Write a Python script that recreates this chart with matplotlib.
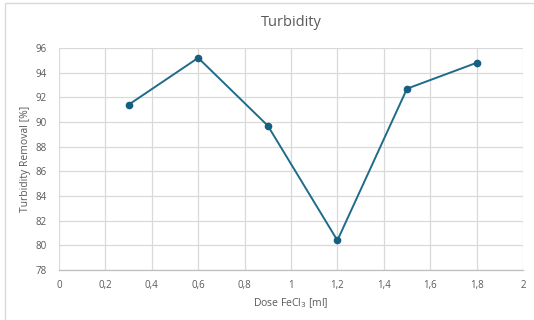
import matplotlib
matplotlib.use("Agg")
import matplotlib.pyplot as plt
from matplotlib.patches import Rectangle

plt.rcParams['font.family'] = ['Open Sans', 'DejaVu Sans']

dose = [0.3, 0.6, 0.9, 1.2, 1.5, 1.8]
removal = [91.4, 95.2, 89.7, 80.4, 92.7, 94.8]
x_ticks = [0, 0.2, 0.4, 0.6, 0.8, 1.0, 1.2, 1.4, 1.6, 1.8, 2.0]
x_tick_labels = ["0", "0,2", "0,4", "0,6", "0,8", "1", "1,2", "1,4", "1,6", "1,8", "2"]
y_ticks = [78, 80, 82, 84, 86, 88, 90, 92, 94, 96]

line_color = "#1f6b8a"
marker_color = "#165f80"
text_gray = "#595959"
grid_gray = "#d9d9d9"

W, H = 534, 320
left, right, top, bottom = 59, 523, 48, 270

fig = plt.figure(figsize=(W / 100, H / 100), dpi=100)
fig.patch.set_facecolor("white")

# chart-area frame
fig.add_artist(Rectangle((5 / W, -0.01), 1.02, 1 - 3 / H + 0.01,
                         transform=fig.transFigure, fill=False,
                         edgecolor="#d9d9d9", linewidth=1.0))

ax = fig.add_axes([left / W, 1 - bottom / H, (right - left) / W, (bottom - top) / H])
ax.plot(dose, removal, color=line_color, linewidth=1.4,
        marker="o", markersize=4.5, markerfacecolor=marker_color,
        markeredgecolor=marker_color, zorder=3)

ax.set_xlim(0, 2)
ax.set_ylim(78, 96)
ax.set_xticks(x_ticks)
ax.set_xticklabels(x_tick_labels)
ax.set_yticks(y_ticks)
ax.grid(True, color=grid_gray, linewidth=0.9)
ax.set_axisbelow(True)
for side in ["top", "right", "left"]:
    ax.spines[side].set_visible(False)
ax.spines["bottom"].set_color("#bfbfbf")
ax.spines["bottom"].set_linewidth(0.9)
ax.tick_params(axis="both", length=0, colors=text_gray, labelsize=7)
ax.tick_params(axis="x", pad=7)
ax.tick_params(axis="y", pad=9)

fig.text(0.5 * (left + right) / W, 1 - 22 / H, "Turbidity", ha="center", va="center",
         fontsize=10.5, color=text_gray)
ax.set_xlabel("Dose FeCl$_3$ [ml]", fontsize=7.5, color=text_gray, labelpad=4)
ax.set_ylabel("Turbidity Removal [%]", fontsize=7.5, color=text_gray, labelpad=3)

fig.savefig("out.png", dpi=100, facecolor="white")
